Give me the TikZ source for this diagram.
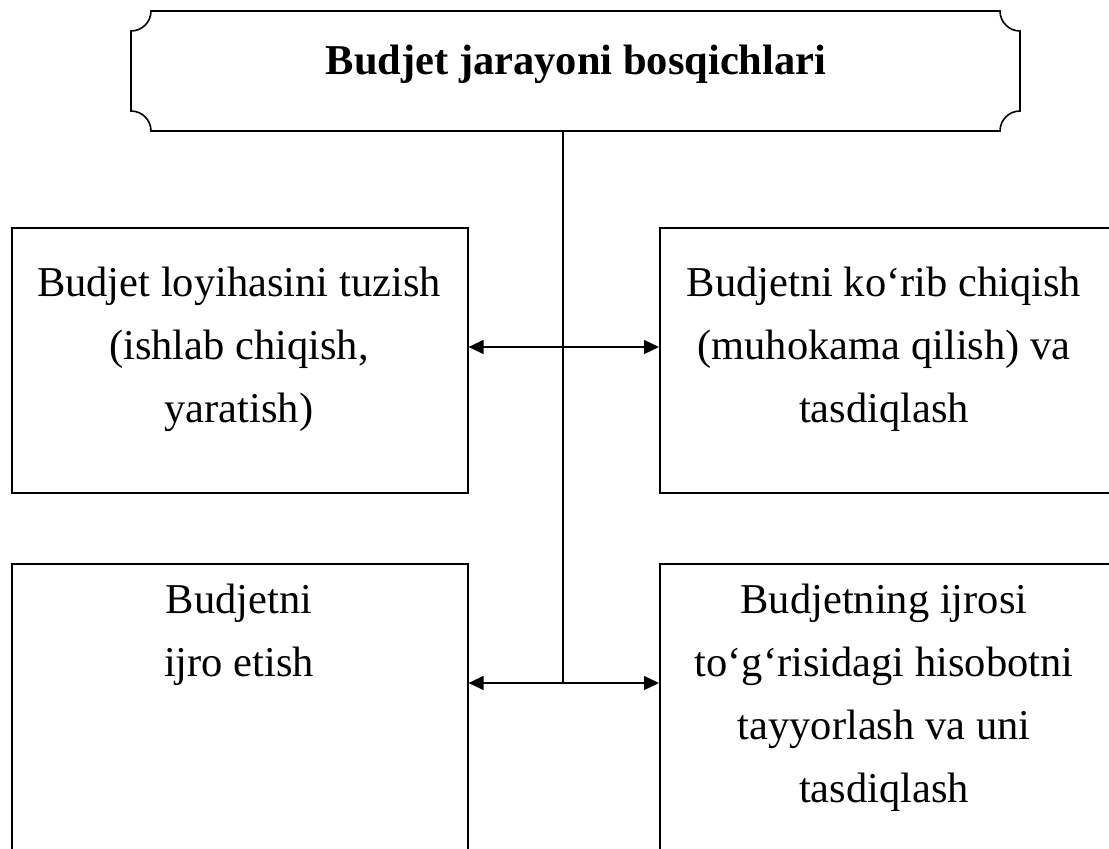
\documentclass[tikz,border=0pt]{standalone}
\usepackage{fontspec}
\setmainfont{Liberation Serif}
\usetikzlibrary{arrows.meta}
\tikzset{
  boxnode/.style={draw=black, line width=1.6pt, minimum width=456pt, minimum height=265pt, inner sep=0pt, anchor=north west},
  bigbox/.style={draw=black, line width=1.6pt, minimum width=456pt, minimum height=330pt, inner sep=0pt, anchor=north west},
  txt/.style={align=center, inner sep=0pt, anchor=north, font=\fontsize{42.5}{63}\selectfont},
  link/.style={line width=1.3pt},
  dbl/.style={line width=1.3pt, {Triangle[length=15pt,width=14pt]}-{Triangle[length=15pt,width=14pt]}},
  plaque/.style={line width=1.6pt}
}
\begin{document}
\begin{tikzpicture}[x=1pt,y=-1pt]
\useasboundingbox (0,0) rectangle (1109,849);
\clip (0,0) rectangle (1109,849);
% title plaque
\draw[plaque] (151,11) -- (1000,11) arc[start angle=180,end angle=270,radius=20pt]
  -- (1020,111) arc[start angle=90,end angle=180,radius=20pt]
  -- (151,131) arc[start angle=0,end angle=90,radius=20pt]
  -- (131,31) arc[start angle=-90,end angle=0,radius=20pt] -- cycle;
\node[anchor=base, inner sep=0pt, font=\fontsize{42.5}{50}\selectfont\bfseries] (title) at (576,74) {Budjet jarayoni bosqichlari};
\coordinate (pb) at (563,131);
% boxes
\node[boxnode] (lt) at (11,227) {};
\node[boxnode] (rt) at (659,227) {};
\node[bigbox] (lb) at (11,563) {};
\node[bigbox] (rb) at (659,563) {};
% texts
\node[txt] (ltt) at (239,264) {\rule{0pt}{32pt}Budjet loyihasini tuzish\\(ishlab chiqish,\\yaratish)};
\node[txt] (rtt) at (884,264) {\rule{0pt}{32pt}Budjetni ko‘rib chiqish\\(muhokama qilish) va\\tasdiqlash};
\node[txt] (lbt) at (239,581) {\rule{0pt}{32pt}Budjetni\\ijro etish};
\node[txt] (rbt) at (884,581) {\rule{0pt}{32pt}Budjetning ijrosi\\to‘g‘risidagi hisobotni\\tayyorlash va uni\\tasdiqlash};
% connectors
\coordinate (j1) at (563,347);
\coordinate (j2) at (563,683);
\draw[link] (pb) -- (j2);
\draw[dbl] (lt.east |- j1) -- (rt.west |- j1);
\draw[dbl] (lb.east |- j2) -- (rb.west |- j2);
\end{tikzpicture}
\end{document}
